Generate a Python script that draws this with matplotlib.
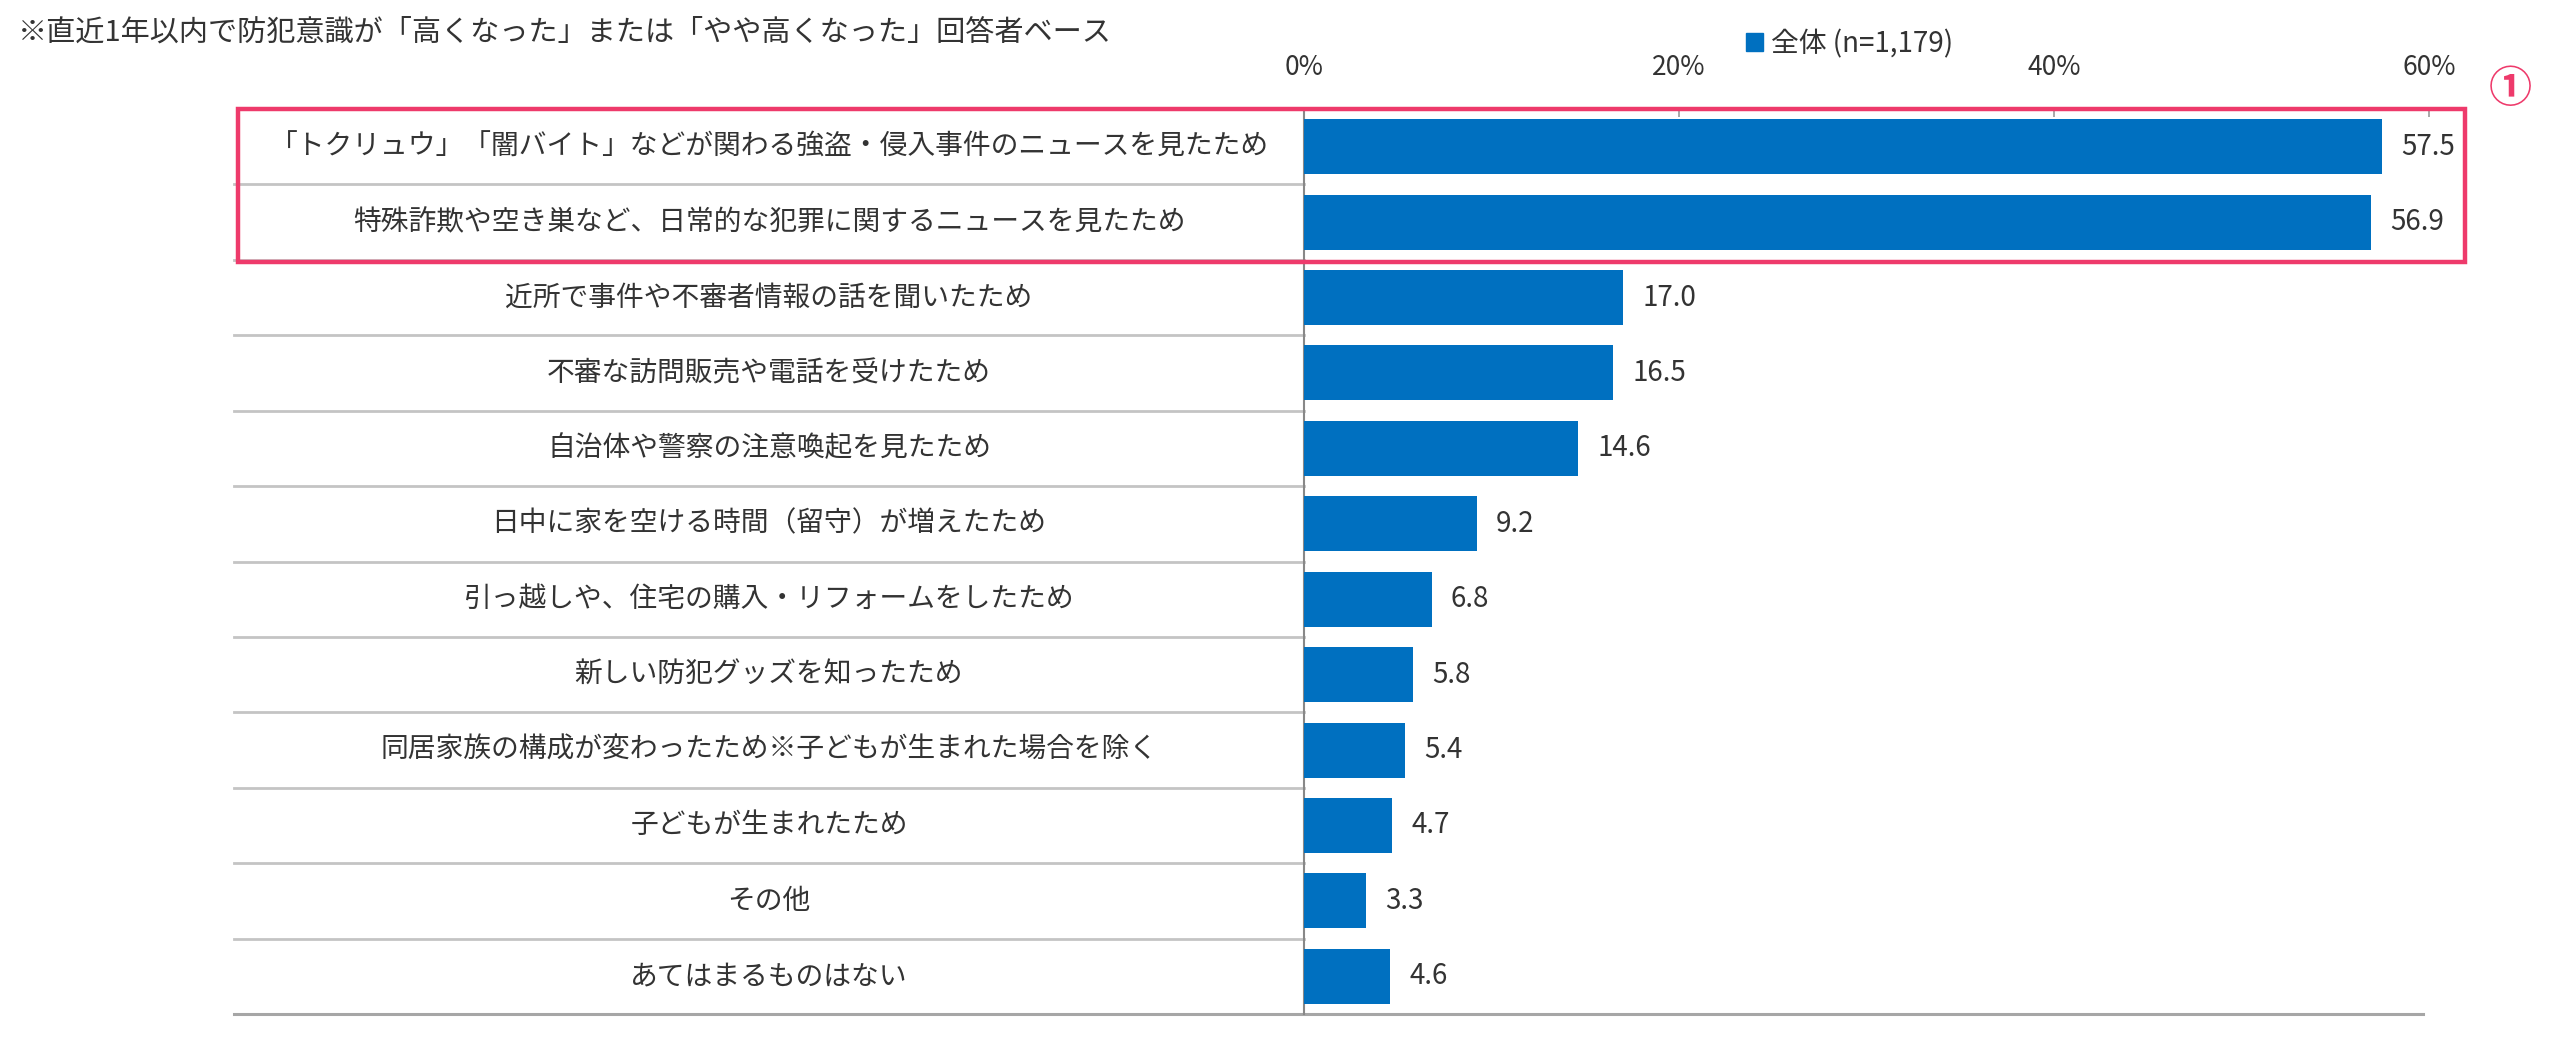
import matplotlib
matplotlib.use("Agg")
import matplotlib.pyplot as plt
from matplotlib.patches import Patch, Rectangle
import matplotlib.transforms as mtransforms

plt.rcParams['font.family'] = ['Noto Sans CJK JP', 'DejaVu Sans']

# ------------------------------------------------------------------ data
categories = [
    "「トクリュウ」「闇バイト」などが関わる強盗・侵入事件のニュースを見たため",
    "特殊詐欺や空き巣など、日常的な犯罪に関するニュースを見たため",
    "近所で事件や不審者情報の話を聞いたため",
    "不審な訪問販売や電話を受けたため",
    "自治体や警察の注意喚起を見たため",
    "日中に家を空ける時間（留守）が増えたため",
    "引っ越しや、住宅の購入・リフォームをしたため",
    "新しい防犯グッズを知ったため",
    "同居家族の構成が変わったため※子どもが生まれた場合を除く",
    "子どもが生まれたため",
    "その他",
    "あてはまるものはない",
]
values = [57.5, 56.9, 17.0, 16.5, 14.6, 9.2, 6.8, 5.8, 5.4, 4.7, 3.3, 4.6]
xticks = [0, 20, 40, 60]
series_name = "全体 (n=1,179)"
note = "※直近1年以内で防犯意識が「高くなった」または「やや高くなった」回答者ベース"

BLUE = "#0070C0"
PINK = "#EE3A6B"
TEXT = "#333333"

W, H = 2560, 1057
fig = plt.figure(figsize=(W / 100, H / 100), dpi=100)

# axes placed in pixel terms: 0% at x=1304, 60% at x=2429, rows from y=109 to 1014
ax_l, ax_r, ax_t, ax_b = 1304, 2429, 109, 1014
ax = fig.add_axes([ax_l / W, 1 - ax_b / H, (ax_r - ax_l) / W, (ax_b - ax_t) / H])

n = len(categories)
ypos = list(range(n))
bars = ax.barh(ypos, values, height=0.73, color=BLUE, zorder=3)
ax.bar_label(bars, labels=[f"{v:.1f}" for v in values], padding=14,
             fontsize=20, color=TEXT)

ax.set_xlim(0, 60)
ax.set_ylim(n - 0.5, -0.5)
ax.set_yticks([])
ax.xaxis.tick_top()
ax.set_xticks(xticks)
ax.set_xticklabels([f"{t}%" for t in xticks], fontsize=19, color=TEXT)
ax.tick_params(axis="x", direction="in", length=6, width=1.2, color="#999999", pad=20)

for side in ["right", "bottom"]:
    ax.spines[side].set_visible(False)
ax.spines["top"].set_color("#d0d0d0")
ax.spines["top"].set_linewidth(1.2)
ax.spines["left"].set_color("#888888")
ax.spines["left"].set_linewidth(1.5)

# category column (labels centered, separators)
col_left = (234 - ax_l) / (ax_r - ax_l)
trans = mtransforms.blended_transform_factory(ax.transAxes, ax.transData)
for i, cat in enumerate(categories):
    ax.text(col_left / 2, i, cat, transform=trans, ha="center", va="center",
            fontsize=20, color=TEXT)
for i in range(n - 1):
    ax.plot([col_left, 0], [i + 0.5, i + 0.5], transform=trans, color="#c4c4c4",
            lw=2, clip_on=False, zorder=2)
ax.plot([col_left, 0.995], [n - 0.5, n - 0.5], transform=trans, color="#a6a6a6",
        lw=2.2, clip_on=False, zorder=2)

# highlight box around the top two rows
box_l = (238 - ax_l) / (ax_r - ax_l)
box_r = (2465 - ax_l) / (ax_r - ax_l)
ax.add_patch(Rectangle((box_l, -0.5), box_r - box_l, 2.03, transform=trans,
                       fill=False, edgecolor=PINK, lw=3.2, clip_on=False, zorder=5))
fig.text(2510 / W, 1 - 89 / H, "①", color=PINK, fontsize=31, fontweight="bold",
         ha="center", va="center")

# legend and note
fig.legend(handles=[Patch(color=BLUE, label=series_name)], loc="center",
           bbox_to_anchor=(1850 / W, 1 - 44 / H), frameon=False, fontsize=20,
           handlelength=0.6, handleheight=0.6, handletextpad=0.3, labelcolor=TEXT)
fig.text(18 / W, 1 - 33 / H, note, fontsize=21, color=TEXT, ha="left", va="center")

fig.savefig("out.png", dpi=100)
